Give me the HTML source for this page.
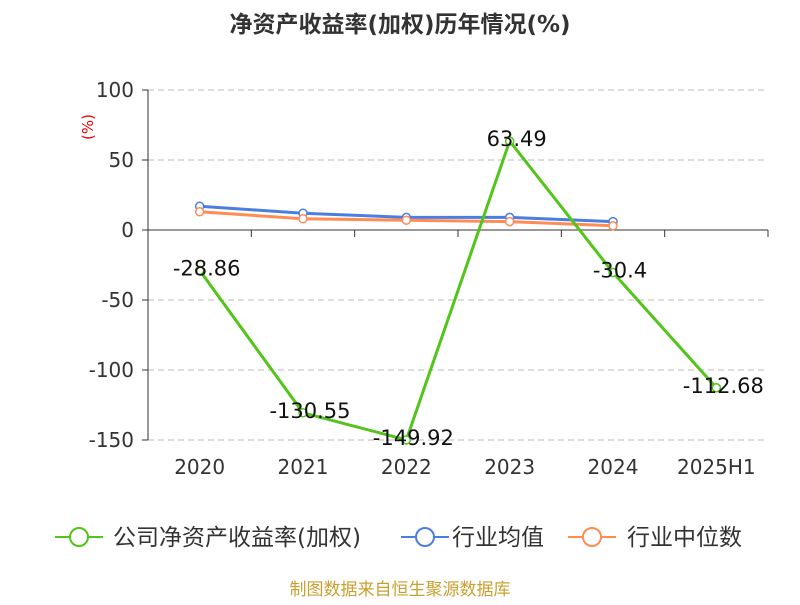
<!DOCTYPE html>
<html><head><meta charset="utf-8"><style>
body{margin:0;background:#fff;}
svg text{font-family:"DejaVu Sans","Noto Sans CJK SC",sans-serif;}
</style></head><body>
<svg width="800" height="600" xmlns="http://www.w3.org/2000/svg">
<text x="400" y="32" text-anchor="middle" font-size="23" font-weight="bold" fill="#333">净资产收益率(加权)历年情况(%)</text>
<text x="93" y="127" font-size="15" fill="#e00" transform="rotate(-90 93 127)" text-anchor="middle">(%)</text>
<g id="grid"></g><g id="axes"></g><g id="series"></g>
<g>
 <g><line x1="55" y1="537" x2="103" y2="537" stroke="#52c41a" stroke-width="2"/><circle cx="79" cy="537" r="9" fill="#fff" stroke="#52c41a" stroke-width="2"/><text x="113" y="545" font-size="23" fill="#333">公司净资产收益率(加权)</text></g>
 <g><line x1="401" y1="537" x2="449" y2="537" stroke="#4a7fe0" stroke-width="2"/><circle cx="425" cy="537" r="9" fill="#fff" stroke="#4a7fe0" stroke-width="2"/><text x="452" y="545" font-size="23" fill="#333">行业均值</text></g>
 <g><line x1="568" y1="537" x2="616" y2="537" stroke="#ff8c55" stroke-width="2"/><circle cx="592" cy="537" r="9" fill="#fff" stroke="#ff8c55" stroke-width="2"/><text x="627" y="545" font-size="23" fill="#333">行业中位数</text></g>
</g>
<text x="400" y="595" text-anchor="middle" font-size="17" fill="#c9a030">制图数据来自恒生聚源数据库</text>
</svg>
<script>
const categories=["2020","2021","2022","2023","2024","2025H1"];
const companyValues=[-28.86,-130.55,-149.92,63.49,-30.4,-112.68];
const industryAvg=[17,12,9,9,6,null];
const industryMedian=[13,8,7,6,3,null];
const yTicks=[100,50,0,-50,-100,-150];
const NS="http://www.w3.org/2000/svg";
const L=148,R=768,T=90,B=440,yMax=100,yMin=-150;
const bw=(R-L)/categories.length;
const x=i=>L+bw*(i+0.5);
const y=v=>T+(yMax-v)/(yMax-yMin)*(B-T);
function mk(p,tag,a){const e=document.createElementNS(NS,tag);for(const k in a)e.setAttribute(k,a[k]);p.appendChild(e);return e;}
const grid=document.getElementById('grid'),axes=document.getElementById('axes'),ser=document.getElementById('series');
yTicks.forEach(t=>{
 if(t!==0){const g=mk(grid,'line',{x1:L,x2:R,y1:y(t),y2:y(t),stroke:'#bbb','stroke-dasharray':'6,4'});
 
 }
 mk(axes,'line',{x1:L-6,x2:L,y1:y(t),y2:y(t),stroke:'#333'});
 const tx=mk(axes,'text',{x:L-14,y:y(t)+7,'text-anchor':'end','font-size':20,fill:'#333'});tx.textContent=t;
 
 
});
mk(axes,'line',{x1:L,x2:L,y1:T,y2:B,stroke:'#333'});
const xa=mk(axes,'line',{x1:L,x2:R,y1:y(0),y2:y(0),stroke:'#333'});


for(let i=0;i<=categories.length;i++)mk(axes,'line',{x1:L+bw*i,x2:L+bw*i,y1:y(0),y2:y(0)+7,stroke:'#333'});
categories.forEach((c,i)=>{const t=mk(axes,'text',{x:x(i),y:474,'text-anchor':'middle','font-size':20,fill:'#333'});t.textContent=c;
 
 });
function line(vals,color,name,labels){
 const g=mk(ser,'g',{});
 
 
 const pts=vals.map((v,i)=>v==null?null:[x(i),y(v)]).filter(p=>p);
 mk(g,'polyline',{points:pts.map(p=>p.join(',')).join(' '),fill:'none',stroke:color,'stroke-width':3});
 vals.forEach((v,i)=>{if(v==null)return;const c=mk(g,'circle',{cx:x(i),cy:y(v),r:4,fill:'#fff',stroke:color,'stroke-width':1.5});
  
  
  if(labels){const t=mk(g,'text',{x:x(i)+7,y:y(v)+5,'text-anchor':'middle','font-size':21,fill:'#111'});t.textContent=v;
   
   }
 });
}
line(industryAvg,'#4a7fe0','industry-avg-line',false);
line(industryMedian,'#ff8c55','industry-median-line',false);
line(companyValues,'#52c41a','company-roe-line',true);
</script>
</body></html>
